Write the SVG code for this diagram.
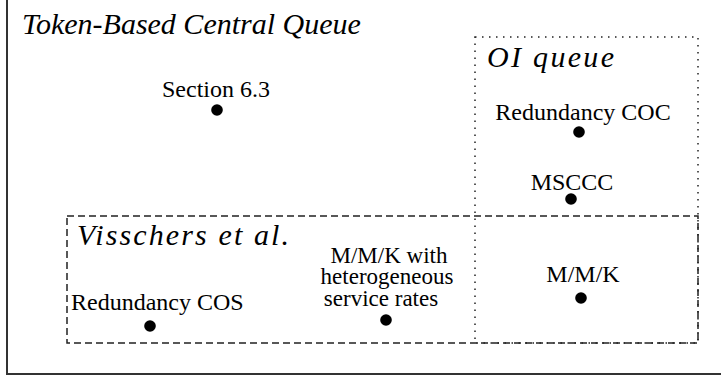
<svg xmlns="http://www.w3.org/2000/svg" width="721" height="381" viewBox="0 0 721 381">
  <rect width="721" height="381" fill="#fff"/>
  <g id="outer-region">
    <rect x="7" y="-10" width="730" height="384" fill="none" stroke="#333" stroke-width="2"/>
    <text font-family="Liberation Serif, serif" font-style="italic" font-size="30" x="22" y="34">Token-Based Central Queue</text>
  </g>
  <g id="oi-region">
    <rect x="475" y="37" width="223" height="306" fill="none" stroke="#222" stroke-width="1.5" stroke-dasharray="1.5 5.5"/>
    <text font-family="Liberation Serif, serif" font-style="italic" font-size="30" x="487" y="67" textLength="127" lengthAdjust="spacing">OI queue</text>
  </g>
  <g id="visschers-region">
    <rect x="67" y="216" width="631" height="127" fill="none" stroke="#222" stroke-width="1.5" stroke-dasharray="7 4"/>
    <text font-family="Liberation Serif, serif" font-style="italic" font-size="30" x="77" y="245" textLength="212" lengthAdjust="spacing">Visschers et al.</text>
  </g>
  <g id="connectors"></g>
  <g id="section63">
    <text font-family="Liberation Serif, serif" font-size="24" x="216" y="97" text-anchor="middle">Section 6.3</text>
    <circle cx="217" cy="110" r="5.8"/>
  </g>
  <g id="redundancy-coc">
    <text font-family="Liberation Serif, serif" font-size="24" x="583" y="120" text-anchor="middle">Redundancy COC</text>
    <circle cx="579" cy="132" r="5.8"/>
  </g>
  <g id="msccc">
    <text font-family="Liberation Serif, serif" font-size="24" x="572" y="190" text-anchor="middle">MSCCC</text>
    <circle cx="571" cy="199" r="5.8"/>
  </g>
  <g id="mmk">
    <text font-family="Liberation Serif, serif" font-size="24" x="583" y="282" text-anchor="middle">M/M/K</text>
    <circle cx="581" cy="298" r="5.8"/>
  </g>
  <g id="mmk-hetero">
    <text font-family="Liberation Serif, serif" font-size="23" text-anchor="middle"><tspan x="389" y="263">M/M/K with</tspan><tspan x="387" y="284">heterogeneous</tspan><tspan x="381" y="306">service rates</tspan></text>
    <circle cx="386" cy="320" r="5.8"/>
  </g>
  <g id="redundancy-cos">
    <text font-family="Liberation Serif, serif" font-size="24" x="71" y="310">Redundancy COS</text>
    <circle cx="150" cy="326" r="5.8"/>
  </g>
</svg>
